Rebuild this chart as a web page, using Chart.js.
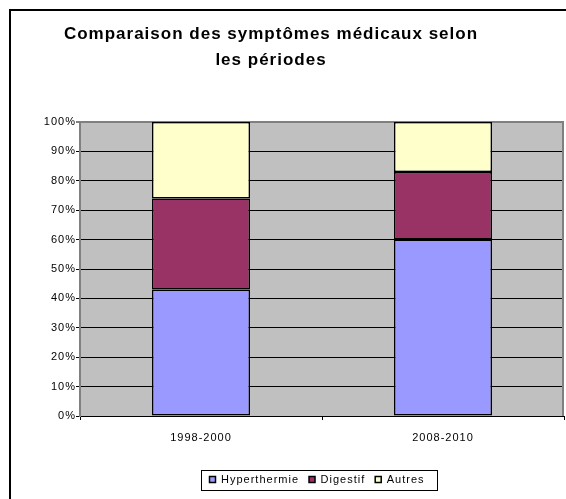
<!DOCTYPE html>
<html>
<head>
<meta charset="utf-8">
<script src="https://cdn.jsdelivr.net/npm/chart.js@4"></script>
<style>
  body { margin: 0; background: #fff; }
  #wrap { width: 566px; height: 499px; }
</style>
</head>
<body>
<div id="wrap"><canvas id="chart" width="566" height="499"></canvas></div>
<script>
// Values (percent of each period)
const periodes = ["1998-2000", "2008-2010"];
const hyperthermie = [43, 60];
const digestif = [31, 23];
const autres = [26, 17];
const titre = ["Comparaison des symptômes médicaux selon", "les périodes"];

Chart.defaults.font.family = "'Liberation Sans', Arial, sans-serif";
Chart.defaults.color = "#000";

// Excel look: grey plot area, frames, boxed legend, wide letter spacing
const excelLook = {
  id: "excelLook",
  beforeUpdate(chart) {
    chart.ctx.letterSpacing = "1px";
  },
  afterLayout(chart) {
    // title and legend sit a little left of where Chart.js centres them
    chart.titleBlock.right -= 22;
    chart.legend.left -= 5;
    chart.legend.right -= 5;
  },
  beforeDraw(chart) {
    const { ctx, chartArea: a } = chart;
    ctx.letterSpacing = "1px";
    ctx.save();
    ctx.fillStyle = "#c0c0c0";
    ctx.fillRect(a.left, a.top, a.right - a.left, a.bottom - a.top);
    ctx.restore();
  },
  afterDraw(chart) {
    const { ctx, chartArea: a } = chart;
    ctx.save();
    // right border of the plot area
    ctx.strokeStyle = "#808080";
    ctx.lineWidth = 2;
    ctx.beginPath();
    ctx.moveTo(a.right - 1, a.top);
    ctx.lineTo(a.right - 1, a.bottom);
    ctx.stroke();
    // outer chart frame
    ctx.strokeStyle = "#000";
    ctx.lineWidth = 2;
    ctx.strokeRect(10, 10, 700, 700);
    // legend frame
    const hb = chart.legend.legendHitBoxes;
    if (hb.length) {
      const l = Math.min(...hb.map(h => h.left)) - 9;
      const r = Math.max(...hb.map(h => h.left + h.width)) + 12;
      const t = Math.min(...hb.map(h => h.top)) - 4.5;
      const b = Math.max(...hb.map(h => h.top + h.height)) + 4.5;
      ctx.lineWidth = 1;
      ctx.strokeRect(Math.round(l) + 0.5, Math.round(t) + 0.5, Math.round(r - l), Math.round(b - t));
    }
    ctx.restore();
  }
};

new Chart(document.getElementById("chart"), {
  type: "bar",
  data: {
    labels: periodes,
    datasets: [
      { label: "Hyperthermie", data: hyperthermie, backgroundColor: "#9999ff" },
      { label: "Digestif", data: digestif, backgroundColor: "#993366" },
      { label: "Autres", data: autres, backgroundColor: "#ffffcc" }
    ]
  },
  options: {
    responsive: false,
    animation: false,
    layout: { padding: { left: 0, right: 2, top: 0, bottom: 4 } },
    datasets: {
      bar: {
        borderColor: "#000",
        borderWidth: 1.5,
        borderSkipped: false,
        barPercentage: 0.405,
        categoryPercentage: 1
      }
    },
    scales: {
      x: {
        stacked: true,
        grid: { drawOnChartArea: false, drawTicks: true, tickLength: 4, color: "#000" },
        border: { color: "#000", width: 1 },
        ticks: { font: { size: 11 }, padding: 11, maxRotation: 0 },
        afterFit(scale) { scale.height = 48; }
      },
      y: {
        stacked: true,
        min: 0,
        max: 100,
        grid: {
          color: c => (c.tick && c.tick.value === 100 ? "#808080" : "#000"),
          lineWidth: c => (c.tick && c.tick.value === 100 ? 2 : 1),
          tickLength: 4
        },
        border: { color: "#808080", width: 2 },
        ticks: { stepSize: 10, font: { size: 11 }, padding: 0, callback: v => v + "%" },
        afterFit(scale) { scale.width = 80; }
      }
    },
    plugins: {
      title: {
        display: true,
        text: titre,
        color: "#000",
        font: { size: 17, weight: "bold", lineHeight: "26px" },
        padding: { top: 21, bottom: 49 }
      },
      legend: {
        position: "bottom",
        fullSize: false,
        labels: { boxWidth: 6, boxHeight: 6, padding: 10, font: { size: 11 }, color: "#000" }
      },
      tooltip: { enabled: false }
    }
  },
  plugins: [excelLook]
});
</script>
</body>
</html>
